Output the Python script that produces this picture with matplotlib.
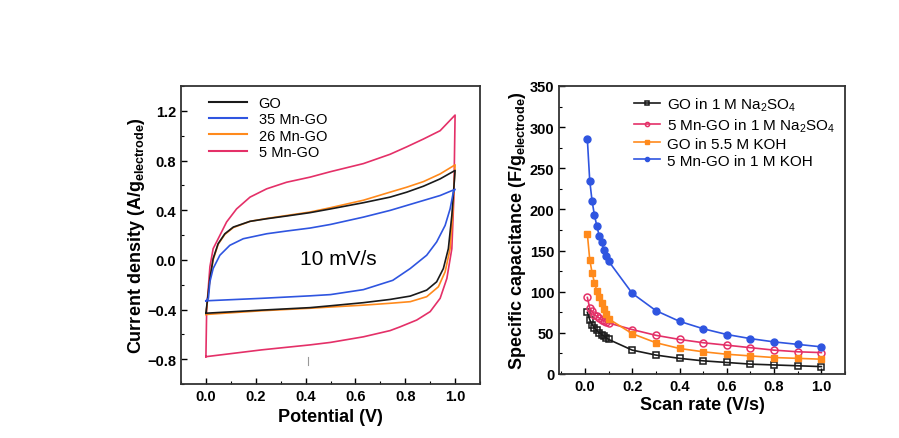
import matplotlib
matplotlib.use("Agg")
import matplotlib.pyplot as plt
from matplotlib.ticker import MultipleLocator

plt.rcParams['font.family'] = ['Liberation Sans', 'DejaVu Sans']
plt.rcParams['mathtext.fontset'] = 'custom'
plt.rcParams['mathtext.rm'] = 'Liberation Sans'
plt.rcParams['mathtext.bf'] = 'Liberation Sans:bold'

# ---------------- CV data (left) ----------------
go_up_v = [0.0, 0.016, 0.029, 0.049, 0.076, 0.11, 0.177, 0.244, 0.324, 0.418, 0.5, 0.632, 0.739, 0.806, 0.873, 0.94, 1.0]
go_up_i = [-0.43, -0.15, 0.01, 0.13, 0.21, 0.264, 0.31, 0.331, 0.353, 0.38, 0.41, 0.46, 0.505, 0.545, 0.593, 0.652, 0.72]
go_dn_v = [1.0, 0.987, 0.973, 0.953, 0.926, 0.886, 0.82, 0.739, 0.632, 0.5, 0.418, 0.224, 0.0]
go_dn_i = [0.72, 0.358, 0.09, -0.07, -0.177, -0.244, -0.292, -0.319, -0.345, -0.37, -0.385, -0.405, -0.43]

mn35_up_v = [0.0, 0.01, 0.016, 0.029, 0.056, 0.096, 0.15, 0.244, 0.324, 0.418, 0.5, 0.632, 0.739, 0.806, 0.873, 0.94, 1.0]
mn35_up_i = [-0.33, -0.31, -0.177, -0.07, 0.037, 0.117, 0.17, 0.21, 0.232, 0.256, 0.285, 0.344, 0.398, 0.438, 0.478, 0.518, 0.568]
mn35_dn_v = [1.0, 0.993, 0.98, 0.96, 0.926, 0.886, 0.82, 0.75, 0.632, 0.5, 0.418, 0.224, 0.0]
mn35_dn_i = [0.568, 0.545, 0.41, 0.277, 0.144, 0.037, -0.07, -0.165, -0.24, -0.28, -0.29, -0.31, -0.33]

mn26_up_v = [0.0, 0.016, 0.029, 0.049, 0.076, 0.11, 0.177, 0.244, 0.324, 0.418, 0.5, 0.632, 0.739, 0.806, 0.873, 0.94, 1.0]
mn26_up_i = [-0.44, -0.16, 0.0, 0.125, 0.205, 0.26, 0.31, 0.333, 0.357, 0.385, 0.42, 0.48, 0.545, 0.585, 0.63, 0.692, 0.765]
mn26_dn_v = [1.0, 0.99, 0.98, 0.96, 0.933, 0.886, 0.82, 0.739, 0.632, 0.5, 0.418, 0.224, 0.0]
mn26_dn_i = [0.765, 0.358, 0.09, -0.097, -0.217, -0.297, -0.337, -0.35, -0.365, -0.38, -0.39, -0.41, -0.44]

mn5_up_v = [0.0, 0.003, 0.016, 0.029, 0.056, 0.083, 0.123, 0.177, 0.244, 0.324, 0.418, 0.5, 0.632, 0.739, 0.806, 0.873, 0.94, 1.0]
mn5_up_i = [-0.78, -0.4, -0.056, 0.09, 0.197, 0.305, 0.41, 0.505, 0.572, 0.625, 0.666, 0.71, 0.775, 0.85, 0.91, 0.973, 1.04, 1.166]
mn5_dn_v = [1.0, 0.995, 0.987, 0.967, 0.94, 0.9, 0.846, 0.779, 0.739, 0.632, 0.5, 0.418, 0.224, 0.0]
mn5_dn_i = [1.166, 0.5, 0.09, -0.15, -0.31, -0.417, -0.485, -0.54, -0.57, -0.62, -0.665, -0.685, -0.725, -0.78]

# ---------------- Capacitance data (right) ----------------
scan_rate = [0.01, 0.02, 0.03, 0.04, 0.05, 0.06, 0.07, 0.08, 0.09, 0.1,
             0.2, 0.3, 0.4, 0.5, 0.6, 0.7, 0.8, 0.9, 1.0]
cap_go_na = [75, 66, 60, 56, 53, 50, 48, 46, 44, 42, 29, 23, 19, 16, 14, 12, 11, 10, 9]
cap_mn5_na = [93, 80, 76, 72, 70, 68, 66, 65, 63, 62, 54, 47, 42, 38, 35, 32, 29, 27, 26]
cap_go_koh = [170, 139, 123, 111, 101, 93, 86, 79, 73, 67, 49, 38, 31, 27, 24, 22, 20, 19, 18]
cap_mn5_koh = [285, 235, 210, 193, 180, 168, 160, 151, 144, 137, 98, 77, 64, 55, 48, 43, 39, 36, 33]

c_black = '#1a1a1a'
c_blue = '#2f55e0'
c_orange = '#ff8a1c'
c_pink = '#e43068'

fig = plt.figure(figsize=(8.99, 4.39), dpi=100)
ax1 = fig.add_axes([181/899, 1-385/439, (480-181)/899, (385-87)/439])
ax2 = fig.add_axes([559/899, 1-375/439, (845-559)/899, (375-87)/439])

# ---- left CV ----
lw = 1.2
for uv, ui, dv, di, c in [
        (mn5_up_v, mn5_up_i, mn5_dn_v, mn5_dn_i, c_pink),
        (mn26_up_v, mn26_up_i, mn26_dn_v, mn26_dn_i, c_orange),
        (go_up_v, go_up_i, go_dn_v, go_dn_i, c_black),
        (mn35_up_v, mn35_up_i, mn35_dn_v, mn35_dn_i, c_blue)]:
    ax1.plot(uv + dv, ui + di, color=c, lw=lw)

h = []
for c, lab in [(c_black, 'GO'), (c_blue, '35 Mn-GO'), (c_orange, '26 Mn-GO'), (c_pink, '5 Mn-GO')]:
    h.append(ax1.plot([], [], color=c, lw=1.5, label=lab)[0])
ax1.legend(handles=h, loc='upper left', frameon=False, fontsize=10.5,
           handlelength=2.6, labelspacing=0.15, borderaxespad=0.3,
           bbox_to_anchor=(0.06, 1.0))

ax1.plot([0.41, 0.41], [-0.78, -0.85], color='#999999', lw=0.8)
ax1.text(0.53, 0.01, '10 mV/s', fontsize=15, ha='center', va='center')

ax1.set_xlim(-0.1, 1.1)
ax1.set_ylim(-1.0, 1.4)
ax1.xaxis.set_minor_locator(MultipleLocator(0.1))
ax1.yaxis.set_minor_locator(MultipleLocator(0.2))
ax1.set_xticks([0.0, 0.2, 0.4, 0.6, 0.8, 1.0])
ax1.set_yticks([-0.8, -0.4, 0.0, 0.4, 0.8, 1.2])
ax1.set_xlabel('Potential (V)', fontsize=13, fontweight='bold', labelpad=4)
ax1.set_ylabel(r'Current density (A/g$_{\mathbf{electrode}}$)', fontsize=13, fontweight='bold', labelpad=0)

# ---- right capacitance ----
ms = 5
ax2.plot(scan_rate, cap_go_na, color=c_black, marker='s', mfc='none', mec=c_black,
         ms=ms, mew=1.1, lw=1.2, label=r'GO in 1 M Na$_2$SO$_4$')
ax2.plot(scan_rate, cap_mn5_na, color=c_pink, marker='o', mfc='none', mec=c_pink,
         ms=ms, mew=1.1, lw=1.2, label=r'5 Mn-GO in 1 M Na$_2$SO$_4$')
ax2.plot(scan_rate, cap_go_koh, color=c_orange, marker='s', ms=ms, lw=1.2,
         label='GO in 5.5 M KOH')
ax2.plot(scan_rate, cap_mn5_koh, color=c_blue, marker='o', ms=ms, lw=1.2,
         label='5 Mn-GO in 1 M KOH')
ax2.legend(loc='upper right', frameon=False, fontsize=11, handlelength=1.7,
           handletextpad=0.5, labelspacing=0.2, markerscale=0.6, borderaxespad=0.2,
           bbox_to_anchor=(1.0, 1.0))

ax2.set_xlim(-0.11, 1.1)
ax2.set_ylim(0, 350)
ax2.set_xticks([0.0, 0.2, 0.4, 0.6, 0.8, 1.0])
ax2.xaxis.set_minor_locator(MultipleLocator(0.1))
ax2.set_yticks(range(0, 351, 50))
ax2.yaxis.set_minor_locator(MultipleLocator(25))
ax2.set_xlabel('Scan rate (V/s)', fontsize=13, fontweight='bold', labelpad=2)
ax2.set_ylabel(r'Specific capacitance (F/g$_{\mathbf{electrode}}$)', fontsize=13, fontweight='bold', labelpad=1)

for ax in (ax1, ax2):
    for s in ax.spines.values():
        s.set_linewidth(1.3)
        s.set_color('#333333')
    ax.tick_params(which='major', direction='in', length=4, width=1.0, labelsize=10.5)
    ax.tick_params(which='minor', direction='in', length=2.5, width=0.8)
    ax.tick_params(axis='y', which='both', left=True, right=False)
    ax.tick_params(axis='x', which='both', top=False)
    for t in ax.get_xticklabels() + ax.get_yticklabels():
        t.set_fontweight('bold')

fig.savefig('out.png', dpi=100)
